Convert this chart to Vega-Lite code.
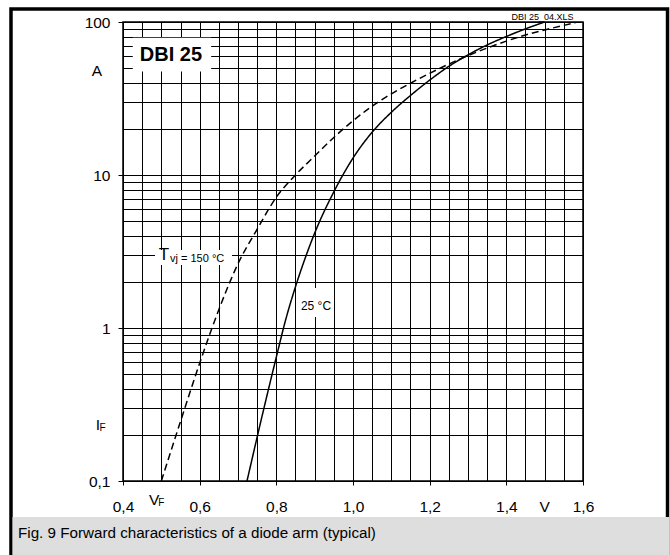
{
  "$schema": "https://vega.github.io/schema/vega-lite/v6.json",
  "width": 460,
  "height": 459,
  "autosize": {"type": "none"},
  "padding": {"left": 123, "top": 22, "right": 87, "bottom": 74},
  "background": "white",
  "data": {"values": [{}]},
  "config": {
    "font": "Liberation Sans",
    "view": {"stroke": "black", "strokeWidth": 1.5},
    "axis": {
      "domain": false,
      "grid": true,
      "gridColor": "black",
      "gridOpacity": 1,
      "gridWidth": 1,
      "tickColor": "black",
      "labelColor": "black",
      "labelFont": "Liberation Sans",
      "labelFontSize": 15.5
    },
    "text": {"font": "Liberation Sans", "color": "black"}
  },
  "datasets": {
    "curves": [
      {"V": 0.50, "I": 0.1, "T": "150 °C"},
      {"V": 0.55, "I": 0.245, "T": "150 °C"},
      {"V": 0.60, "I": 0.589, "T": "150 °C"},
      {"V": 0.65, "I": 1.318, "T": "150 °C"},
      {"V": 0.70, "I": 2.63, "T": "150 °C"},
      {"V": 0.75, "I": 4.42, "T": "150 °C"},
      {"V": 0.80, "I": 7.16, "T": "150 °C"},
      {"V": 0.85, "I": 10.0, "T": "150 °C"},
      {"V": 0.90, "I": 13.3, "T": "150 °C"},
      {"V": 0.95, "I": 17.6, "T": "150 °C"},
      {"V": 1.00, "I": 22.6, "T": "150 °C"},
      {"V": 1.05, "I": 28.2, "T": "150 °C"},
      {"V": 1.10, "I": 33.9, "T": "150 °C"},
      {"V": 1.15, "I": 39.8, "T": "150 °C"},
      {"V": 1.20, "I": 46.2, "T": "150 °C"},
      {"V": 1.25, "I": 53.1, "T": "150 °C"},
      {"V": 1.30, "I": 60.3, "T": "150 °C"},
      {"V": 1.35, "I": 67.6, "T": "150 °C"},
      {"V": 1.40, "I": 75.0, "T": "150 °C"},
      {"V": 1.45, "I": 82.2, "T": "150 °C"},
      {"V": 1.50, "I": 88.7, "T": "150 °C"},
      {"V": 1.58, "I": 98.9, "T": "150 °C"},
      {"V": 0.7235, "I": 0.1, "T": "25 °C"},
      {"V": 0.76, "I": 0.248, "T": "25 °C"},
      {"V": 0.80, "I": 0.646, "T": "25 °C"},
      {"V": 0.825, "I": 1.148, "T": "25 °C"},
      {"V": 0.85, "I": 1.862, "T": "25 °C"},
      {"V": 0.875, "I": 2.85, "T": "25 °C"},
      {"V": 0.90, "I": 4.17, "T": "25 °C"},
      {"V": 0.95, "I": 7.76, "T": "25 °C"},
      {"V": 1.00, "I": 12.9, "T": "25 °C"},
      {"V": 1.05, "I": 19.05, "T": "25 °C"},
      {"V": 1.10, "I": 25.7, "T": "25 °C"},
      {"V": 1.15, "I": 33.1, "T": "25 °C"},
      {"V": 1.20, "I": 41.7, "T": "25 °C"},
      {"V": 1.25, "I": 51.3, "T": "25 °C"},
      {"V": 1.30, "I": 61.0, "T": "25 °C"},
      {"V": 1.35, "I": 70.8, "T": "25 °C"},
      {"V": 1.40, "I": 80.4, "T": "25 °C"},
      {"V": 1.45, "I": 90.2, "T": "25 °C"},
      {"V": 1.50, "I": 100.0, "T": "25 °C"}
    ]
  },
  "layer": [
    {
      "mark": {"type": "rect", "fill": null, "stroke": "black", "strokeWidth": 3.5},
      "encoding": {
        "x": {"datum": 0.1078},
        "x2": {"datum": 1.8205},
        "y": {"datum": 121.6},
        "y2": {"datum": 0.0305}
      }
    },
    {
      "mark": {"type": "rect", "fill": "#dedede", "stroke": null},
      "encoding": {
        "x": {"datum": 0.1117},
        "x2": {"datum": 1.825},
        "y": {"datum": 0.0582},
        "y2": {"datum": 0.0305}
      }
    },
    {
      "mark": {"type": "rect", "fill": "white", "stroke": null},
      "encoding": {
        "x": {"datum": 0.4255},
        "x2": {"datum": 0.63},
        "y": {"datum": 79},
        "y2": {"datum": 47.5}
      }
    },
    {
      "mark": {"type": "rect", "fill": "white", "stroke": null},
      "encoding": {
        "x": {"datum": 0.4835},
        "x2": {"datum": 0.6844},
        "y": {"datum": 3.24},
        "y2": {"datum": 2.58}
      }
    },
    {
      "mark": {"type": "rect", "fill": "white", "stroke": null},
      "encoding": {
        "x": {"datum": 0.8566},
        "x2": {"datum": 0.9505},
        "y": {"datum": 1.826},
        "y2": {"datum": 1.18}
      }
    },
    {
      "mark": {"type": "text", "text": "DBI 25", "fontSize": 20, "fontWeight": "bold", "align": "center", "baseline": "middle"},
      "encoding": {"x": {"datum": 0.525}, "y": {"datum": 61}}
    },
    {
      "mark": {"type": "text", "text": "T", "fontSize": 17, "align": "center", "baseline": "middle"},
      "encoding": {"x": {"datum": 0.507}, "y": {"datum": 3.0}}
    },
    {
      "mark": {"type": "text", "text": "vj = 150 °C", "fontSize": 11, "align": "left", "baseline": "middle"},
      "encoding": {"x": {"datum": 0.5226}, "y": {"datum": 2.82}}
    },
    {
      "mark": {"type": "text", "text": "25 °C", "fontSize": 12, "align": "center", "baseline": "middle"},
      "encoding": {"x": {"datum": 0.9035}, "y": {"datum": 1.39}}
    },
    {
      "mark": {"type": "text", "text": "DBI 25_04.XLS", "fontSize": 9, "align": "center", "baseline": "middle"},
      "encoding": {"x": {"datum": 1.4944}, "y": {"datum": 107.8}}
    },
    {
      "mark": {"type": "text", "text": "A", "fontSize": 15.5, "align": "center", "baseline": "middle"},
      "encoding": {"x": {"datum": 0.332}, "y": {"datum": 48}}
    },
    {
      "mark": {"type": "text", "text": "I", "fontSize": 15.5, "align": "center", "baseline": "middle"},
      "encoding": {"x": {"datum": 0.3348}, "y": {"datum": 0.232}}
    },
    {
      "mark": {"type": "text", "text": "F", "fontSize": 10, "align": "center", "baseline": "middle"},
      "encoding": {"x": {"datum": 0.3465}, "y": {"datum": 0.222}}
    },
    {
      "mark": {"type": "text", "text": "V", "fontSize": 15.5, "align": "center", "baseline": "middle"},
      "encoding": {"x": {"datum": 0.481}, "y": {"datum": 0.0751}}
    },
    {
      "mark": {"type": "text", "text": "F", "fontSize": 10, "align": "center", "baseline": "middle"},
      "encoding": {"x": {"datum": 0.4999}, "y": {"datum": 0.0718}}
    },
    {
      "mark": {"type": "text", "text": "V", "fontSize": 15.5, "align": "center", "baseline": "middle"},
      "encoding": {"x": {"datum": 1.5}, "y": {"datum": 0.0676}}
    },
    {
      "mark": {"type": "text", "text": "Fig. 9 Forward characteristics of a diode arm (typical)", "fontSize": 15.2, "align": "left", "baseline": "middle"},
      "encoding": {"x": {"datum": 0.1261}, "y": {"datum": 0.0457}}
    },
    {
      "data": {"name": "curves"},
      "mark": {"type": "line", "color": "black", "strokeWidth": 1.5, "interpolate": "monotone"},
      "encoding": {
        "x": {
          "field": "V",
          "type": "quantitative",
          "scale": {"domain": [0.4, 1.6], "nice": false, "zero": false},
          "axis": {
            "title": null,
            "values": [0.4, 0.45, 0.5, 0.55, 0.6, 0.65, 0.7, 0.75, 0.8, 0.85, 0.9, 0.95, 1.0, 1.05, 1.1, 1.15, 1.2, 1.25, 1.3, 1.35, 1.4, 1.45, 1.5, 1.55, 1.6],
            "tickCount": 40,
            "labelExpr": "abs(datum.value*5 - round(datum.value*5)) < 0.001 ? replace(format(datum.value, '.1f'), '.', ',') : ''",
            "labelOverlap": false,
            "labelFlush": false,
            "tickSize": 4,
            "tickOpacity": {"condition": {"test": "abs(datum.value*5 - round(datum.value*5)) < 0.001", "value": 1}, "value": 0},
            "labelPadding": 14
          }
        },
        "y": {
          "field": "I",
          "type": "quantitative",
          "scale": {"type": "log", "domain": [0.1, 100], "nice": false},
          "axis": {
            "title": null,
            "values": [0.1, 0.2, 0.3, 0.4, 0.5, 0.6, 0.7, 0.8, 0.9, 1, 2, 3, 4, 5, 6, 7, 8, 9, 10, 20, 30, 40, 50, 60, 70, 80, 90, 100],
            "tickCount": 40,
            "labelExpr": "datum.value == 0.1 ? '0,1' : (datum.value == 1 || datum.value == 10 || datum.value == 100) ? format(datum.value, 'd') : ''",
            "labelOverlap": false,
            "labelFlush": false,
            "tickSize": 5,
            "tickOpacity": {"condition": {"test": "datum.value == 0.1 || datum.value == 1 || datum.value == 10 || datum.value == 100", "value": 1}, "value": 0},
            "labelPadding": 8
          }
        },
        "strokeDash": {
          "field": "T",
          "type": "nominal",
          "scale": {"domain": ["150 °C", "25 °C"], "range": [[7, 4], [1, 0]]},
          "legend": null
        }
      }
    }
  ]
}
